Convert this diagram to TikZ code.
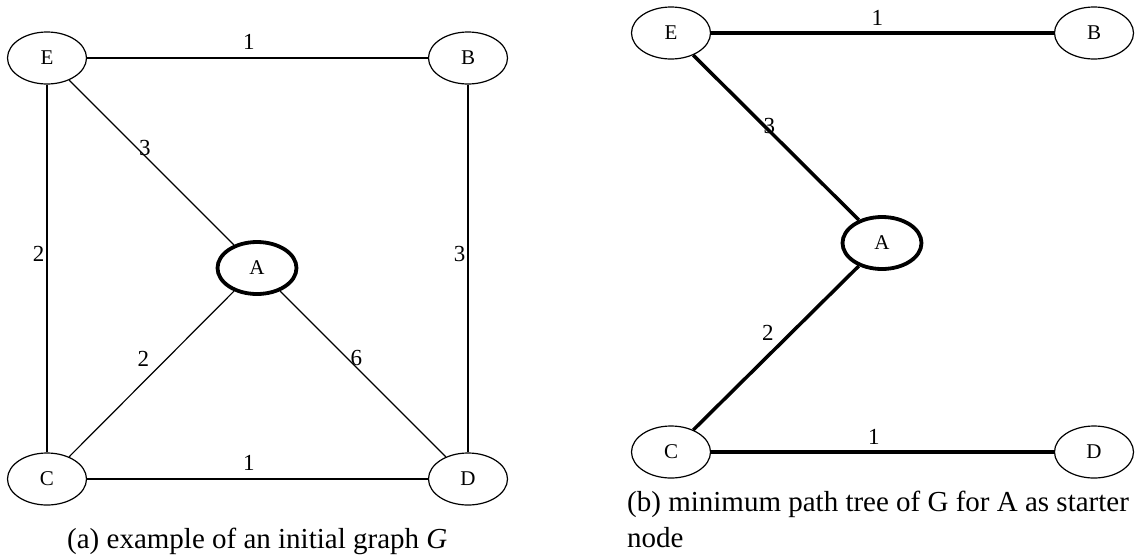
\documentclass[tikz,border=0pt]{standalone}
\usepackage{fontspec}
\setmainfont{Liberation Serif}
\usetikzlibrary{shapes.geometric}

\begin{document}
\begin{tikzpicture}[x=1pt, y=-1pt,
		vertex/.style={ellipse, draw, line width=1.2pt, minimum width=79pt, minimum height=52pt, inner sep=0pt, font=\fontsize{21}{24}\selectfont},
		source/.style={vertex, line width=3.8pt},
		link/.style={line width=1.2pt},
		tree/.style={line width=3.5pt},
		wlabel/.style={inner sep=1pt, font=\fontsize{23}{26}\selectfont},
		subcap/.style={inner sep=0pt, align=left, font=\fontsize{29}{36}\selectfont}]
	\useasboundingbox (0,0) rectangle (1145,558);
	
	% Initial graph G
	\node[vertex] (gE) at (47,58) {E};
	\node[vertex] (gB) at (468,58) {B};
	\node[source] (gA) at (257,268) {A};
	\node[vertex] (gC) at (47,479) {C};
	\node[vertex] (gD) at (468,479) {D};
	
	\draw[link] (gE) -- node[wlabel, pos=.475, above=7pt] {1} (gB);
	\draw[link] (gE) -- node[wlabel, pos=.46, left=1pt] {2} (gC);
	\draw[link] (gB) -- node[wlabel, pos=.46, left=1pt] {3} (gD);
	\draw[link] (gE) -- node[wlabel, pos=.46, yshift=8pt] {3} (gA);
	\draw[link] (gA) -- node[wlabel, pos=.55, yshift=23pt] {2} (gC);
	\draw[link] (gA) -- node[wlabel, pos=.46, yshift=9pt] {6} (gD);
	\draw[link] (gC) -- node[wlabel, pos=.475, above=7pt] {1} (gD);
	
	\node[subcap, anchor=base west] (capA) at (67,548) {(a) example of an initial graph \textit{G}};
	
	% Minimum path tree for A
	\begin{scope}[shift={(624,-25)}]
		\node[vertex] (tE) at (47,58) {E};
		\node[vertex] (tB) at (470,58) {B};
		\node[source] (tA) at (258,268) {A};
		\node[vertex] (tC) at (47,477) {C};
		\node[vertex] (tD) at (470,477) {D};
		
		\draw[tree] (tE) -- node[wlabel, pos=.485, above=5pt] {1} (tB);
		\draw[tree] (tE) -- node[wlabel, pos=.46, yshift=5pt] {3} (tA);
		\draw[tree] (tA) -- node[wlabel, pos=.55, yshift=23pt] {2} (tC);
		\draw[tree] (tC) -- node[wlabel, pos=.475, above=5pt] {1} (tD);
	\end{scope}
	
	\node[subcap, anchor=base west] (capB) at (627,547) {(b) minimum path tree of G for A as starter\\node};
\end{tikzpicture}
\end{document}
